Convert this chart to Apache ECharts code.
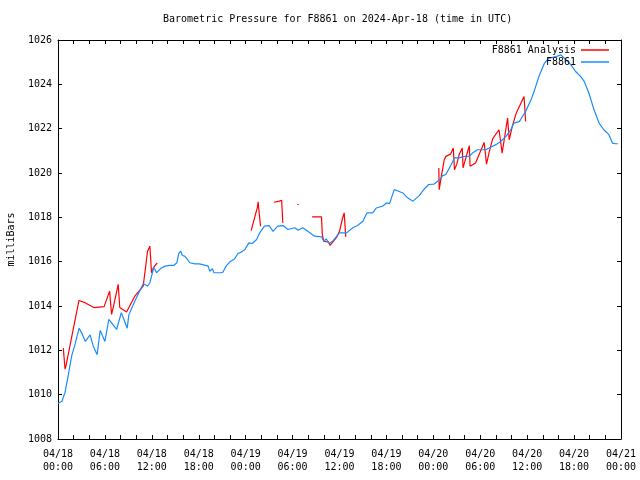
<!DOCTYPE html>
<html>
<head>
<meta charset="utf-8">
<script src="https://cdn.jsdelivr.net/npm/echarts@6/dist/echarts.min.js"></script>
<style>html,body{margin:0;padding:0;background:#fff}#c{width:640px;height:480px}</style>
</head>
<body>
<div id="c"></div>
<script>
// hours since 2024-04-18 00:00 UTC
var blueHours = [0.0,0.5,0.9,1.3,1.75,2.2,2.7,3.0,3.5,4.1,4.5,5.0,5.4,6.0,6.5,7.5,8.1,8.85,9.06,9.8,10.9,11.45,11.75,12.26,12.6,13.15,13.7,14.3,14.8,15.2,15.45,15.7,15.9,16.2,16.5,16.85,17.1,17.5,18.1,18.2,19.2,19.4,19.75,19.95,20.25,20.5,20.8,21.1,21.5,21.95,22.6,23.0,23.45,23.9,24.4,24.85,25.4,25.8,26.4,27.0,27.5,28.1,28.8,29.4,30.3,30.7,31.3,32.2,32.8,33.7,34.0,34.3,34.7,35.1,36.0,36.9,37.7,38.3,39.0,39.5,40.25,40.7,41.5,42.0,42.4,43.0,43.4,44.1,44.7,45.4,46.2,46.85,47.4,48.1,48.55,48.9,49.2,49.6,50.3,50.7,51.3,52.0,52.6,53.0,53.65,54.7,55.4,56.0,56.6,57.3,57.9,58.3,59.0,59.4,59.8,60.5,60.9,61.5,62.2,62.8,63.7,64.3,64.9,65.6,66.2,66.85,67.3,67.9,68.55,69.2,69.8,70.45,70.9,71.3,71.6];
var blueValues = [1009.6,1009.7,1010.1,1010.85,1011.75,1012.3,1013.0,1012.8,1012.4,1012.7,1012.2,1011.8,1012.9,1012.4,1013.4,1012.95,1013.7,1013.0,1013.6,1014.2,1015.0,1014.9,1015.05,1015.75,1015.5,1015.7,1015.8,1015.83,1015.83,1015.95,1016.37,1016.47,1016.28,1016.25,1016.13,1015.95,1016.0,1015.9,1015.9,1015.83,1015.8,1015.57,1015.68,1015.5,1015.5,1015.43,1015.5,1015.53,1015.8,1015.98,1016.13,1016.37,1016.43,1016.55,1016.85,1016.82,1017.0,1017.3,1017.6,1017.63,1017.37,1017.6,1017.63,1017.45,1017.53,1017.42,1017.53,1017.3,1017.15,1017.12,1016.92,1017.03,1016.82,1016.92,1017.3,1017.3,1017.53,1017.63,1017.82,1018.2,1018.2,1018.42,1018.5,1018.65,1018.62,1019.25,1019.2,1019.1,1018.88,1018.73,1018.98,1019.28,1019.48,1019.5,1019.63,1019.73,1019.88,1019.93,1020.38,1020.68,1020.68,1020.75,1020.75,1020.9,1021.05,1021.05,1021.17,1021.28,1021.42,1021.65,1021.95,1022.25,1022.32,1022.55,1022.78,1023.3,1023.7,1024.35,1024.95,1025.18,1025.25,1025.33,1025.13,1024.88,1024.58,1024.35,1024.13,1023.6,1022.85,1022.25,1021.95,1021.73,1021.35,1021.32,1021.32];

var redHours = [0.68,0.9,1.05,2.68,3.45,4.6,5.9,6.6,6.85,7.06,7.7,7.9,8.77,9.83,10.9,11.45,11.75,11.96,12.2,12.7,13.0,
  24.7,25.5,25.6,25.7,25.9,26.2,
  27.6,28.3,28.6,28.75,29.5,
  30.6,30.8,31.5,
  32.5,33.7,33.8,34.0,34.6,34.8,35.6,36.0,36.4,36.6,36.8,40.0,
  48.7,48.75,49.0,49.4,49.6,50.2,50.55,50.7,51.0,51.3,51.7,51.8,52.6,52.7,53.4,54.5,54.8,55.15,55.6,56.4,56.8,57.5,57.7,58.1,58.6,59.6,59.8];
var redValues = [1012.1,1011.15,1011.35,1014.25,1014.15,1013.93,1013.97,1014.67,1013.62,1013.93,1014.98,1013.93,1013.73,1014.45,1014.9,1016.47,1016.7,1015.5,1015.73,1015.95,null,
  1017.4,1018.45,1018.7,1018.3,1017.6,null,
  1018.68,1018.73,1018.77,1017.75,null,
  1018.58,1018.58,null,
  1018.02,1018.02,1017.22,1016.92,1016.88,1016.73,1017.08,1017.37,1017.97,1018.2,1017.12,null,
  1020.23,1019.25,1019.8,1020.6,1020.75,1020.85,1021.13,1020.15,1020.4,1020.83,1021.13,1020.23,1021.23,1020.3,1020.45,1021.38,1020.4,1020.95,1021.55,1021.95,1020.9,1022.48,1021.5,1022.1,1022.7,1023.45,1022.32];

var xTickDays = ['04/18','04/19','04/20','04/21'];
var titleText = 'Barometric Pressure for F8861 on 2024-Apr-18 (time in UTC)';
var yName = 'milliBars';
var redName = 'F8861 Analysis';
var blueName = 'F8861';

function zip(a, b) { var o = []; for (var i = 0; i < a.length; i++) o.push([a[i], b[i]]); return o; }
function pad(n) { return (n < 10 ? '0' : '') + n; }

var FONT = 'DejaVu Sans Mono';
var txt = { fontFamily: FONT, fontSize: 10, color: '#000' };
var lineCol = '#000';

var chart = echarts.init(document.getElementById('c'), null, { renderer: 'canvas' });
chart.setOption({
  animation: false,
  backgroundColor: '#fff',
  textStyle: { fontFamily: FONT },
  title: { text: titleText, left: 163, top: 14, padding: 0,
    textStyle: { fontFamily: FONT, fontSize: 10, fontWeight: 'normal', color: '#000' } },
  legend: [
    { data: [redName], orient: 'vertical', right: 31, top: 45, padding: 0, align: 'right',
      icon: 'rect', itemWidth: 28, itemHeight: 1.5, textStyle: txt, selectedMode: false },
    { data: [blueName], orient: 'vertical', right: 31, top: 57, padding: 0, align: 'right',
      icon: 'rect', itemWidth: 28, itemHeight: 1.5, textStyle: txt, selectedMode: false }
  ],
  grid: { left: 58, right: 19, top: 40, bottom: 41, containLabel: false, outerBoundsMode: 'none' },
  xAxis: [
    { type: 'value', min: 0, max: 72, interval: 2, position: 'bottom',
      axisLine: { show: true, onZero: false, lineStyle: { color: lineCol, width: 1 } },
      axisTick: { show: true, inside: true, length: 4, lineStyle: { color: lineCol } },
      splitLine: { show: false },
      axisLabel: { show: true, margin: 9, lineHeight: 13, fontFamily: FONT, fontSize: 10, color: '#000',
        hideOverlap: false,
        formatter: function (v) {
          if (Math.round(v) % 6 !== 0) return '';
          var d = Math.floor(v / 24), h = v - d * 24;
          return xTickDays[d] + '\n' + pad(h) + ':00';
        } } },
    { type: 'value', min: 0, max: 72, interval: 2, position: 'top',
      axisLine: { show: true, onZero: false, lineStyle: { color: lineCol, width: 1 } },
      axisTick: { show: true, inside: true, length: 4, lineStyle: { color: lineCol } },
      splitLine: { show: false }, axisLabel: { show: false } }
  ],
  yAxis: [
    { type: 'value', min: 1008, max: 1026, interval: 2, position: 'left',
      name: yName, nameLocation: 'middle', nameGap: 42, nameRotate: 90,
      nameTextStyle: txt,
      axisLine: { show: true, onZero: false, lineStyle: { color: lineCol, width: 1 } },
      axisTick: { show: true, inside: true, length: 4, lineStyle: { color: lineCol } },
      splitLine: { show: false },
      axisLabel: { margin: 6, fontFamily: FONT, fontSize: 10, color: '#000',
        formatter: function (v) { return String(v); } } },
    { type: 'value', min: 1008, max: 1026, interval: 2, position: 'right',
      axisLine: { show: true, onZero: false, lineStyle: { color: lineCol, width: 1 } },
      axisTick: { show: true, inside: true, length: 4, lineStyle: { color: lineCol } },
      splitLine: { show: false }, axisLabel: { show: false } }
  ],
  series: [
    { name: redName, type: 'line', data: zip(redHours, redValues), showSymbol: false, symbol: 'none',
      connectNulls: false, color: '#ff0000', lineStyle: { color: '#ff0000', width: 1.2 } },
    { name: blueName, type: 'line', data: zip(blueHours, blueValues), showSymbol: false, symbol: 'none',
      color: '#1a8cff', lineStyle: { color: '#1a8cff', width: 1.2 } }
  ]
});
</script>
</body>
</html>
